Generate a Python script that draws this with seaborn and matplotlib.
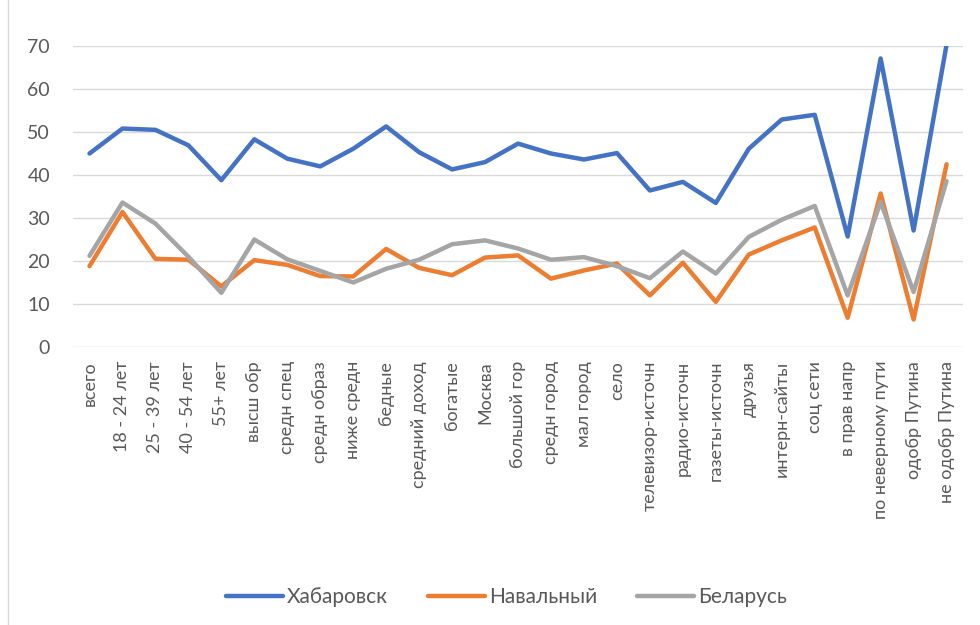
import matplotlib
matplotlib.use("Agg")
import matplotlib.pyplot as plt
import seaborn as sns
import pandas as pd
from matplotlib.lines import Line2D

categories = ["всего", "18 - 24 лет", "25 - 39 лет", "40 - 54 лет", "55+ лет",
              "высш обр", "средн спец", "средн образ", "ниже средн", "бедные",
              "средний доход", "богатые", "Москва", "большой гор", "средн город",
              "мал город", "село", "телевизор-источн", "радио-источн", "газеты-источн",
              "друзья", "интерн-сайты", "соц сети", "в прав напр", "по неверному пути",
              "одобр Путина", "не одобр Путина"]

khabarovsk = [45.0, 50.8, 50.5, 46.9, 38.8, 48.3, 43.8, 42.0, 46.1, 51.3,
              45.3, 41.3, 43.0, 47.3, 45.0, 43.6, 45.1, 36.4, 38.4, 33.5,
              46.1, 52.9, 54.0, 25.7, 67.1, 27.1, 70.3]
navalny = [18.8, 31.4, 20.5, 20.3, 14.1, 20.2, 19.1, 16.5, 16.4, 22.8,
           18.4, 16.7, 20.8, 21.3, 15.9, 17.8, 19.4, 12.0, 19.6, 10.5,
           21.5, 24.8, 27.8, 6.8, 35.7, 6.4, 42.5]
belarus = [21.2, 33.6, 28.7, 21.0, 12.6, 25.0, 20.4, 17.7, 15.0, 18.2,
           20.3, 23.9, 24.8, 22.9, 20.3, 20.9, 18.8, 16.0, 22.2, 17.1,
           25.6, 29.6, 32.8, 12.0, 33.7, 12.8, 38.6]

series_names = ["Хабаровск", "Навальный", "Беларусь"]
colors = ["#4472C4", "#ED7D31", "#A5A5A5"]

rows = []
for name, vals in zip(series_names, [khabarovsk, navalny, belarus]):
    for c, v in zip(categories, vals):
        rows.append({"cat": c, "val": v, "series": name})
df = pd.DataFrame(rows)
df["cat"] = pd.Categorical(df["cat"], categories=categories, ordered=True)

sns.set_theme(style="white")
plt.rcParams["font.family"] = ["Lato", "Open Sans", "DejaVu Sans"]

fig = plt.figure(figsize=(9.8, 6.25), dpi=100)
ax = fig.add_axes([0.0745, 0.4448, 0.9082, 0.4816])

sns.lineplot(data=df, x="cat", y="val", hue="series", hue_order=series_names,
             palette=colors, linewidth=3.2, sort=False, ax=ax, legend=False)

ax.set_xlim(-0.5, len(categories) - 0.5)
ax.set_ylim(0, 70)
ax.set_yticks(range(0, 71, 10))
ax.yaxis.grid(True, color="#D9D9D9", linewidth=1.0)
ax.set_axisbelow(True)
for s in ax.spines.values():
    s.set_visible(False)
ax.set_xlabel("")
ax.set_ylabel("")
ax.set_xticks(range(len(categories)))
ax.set_xticklabels(categories, rotation=90, fontsize=13, color="#595959")
ax.tick_params(axis="x", length=0, pad=10)
ax.tick_params(axis="y", length=0, pad=16.5, labelsize=14, labelcolor="#595959")
for lbl in ax.get_yticklabels():
    lbl.set_horizontalalignment("right")

handles = [Line2D([0], [0], color=c, linewidth=3.2) for c in colors]
fig.legend(handles, series_names, loc="center", bbox_to_anchor=(0.517, 0.045),
           ncol=3, frameon=False, fontsize=15, handlelength=2.75,
           handletextpad=0.2, columnspacing=1.9, labelcolor="#595959")

fig.add_artist(Line2D([8 / 980, 8 / 980], [0, 1], color="#D9D9D9", linewidth=1.0,
                      transform=fig.transFigure))

fig.savefig("out.png", dpi=100, facecolor="white")
